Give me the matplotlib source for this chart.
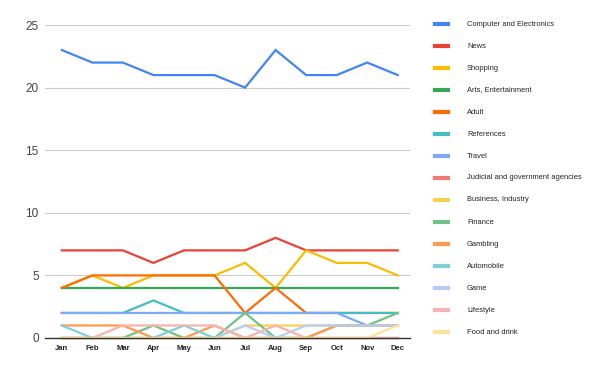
import matplotlib
matplotlib.use("Agg")
import matplotlib.pyplot as plt
from matplotlib.lines import Line2D

plt.rcParams['font.family'] = ['Liberation Sans', 'DejaVu Sans']

months = ["Jan", "Feb", "Mar", "Apr", "May", "Jun", "Jul", "Aug", "Sep", "Oct", "Nov", "Dec"]

computer = [23, 22, 22, 21, 21, 21, 20, 23, 21, 21, 22, 21]
news = [7, 7, 7, 6, 7, 7, 7, 8, 7, 7, 7, 7]
shopping = [4, 5, 4, 5, 5, 5, 6, 4, 7, 6, 6, 5]
arts = [4, 4, 4, 4, 4, 4, 4, 4, 4, 4, 4, 4]
adult = [4, 5, 5, 5, 5, 5, 2, 4, 2, 2, 2, 2]
references = [2, 2, 2, 3, 2, 2, 2, 2, 2, 2, 2, 2]
travel = [2, 2, 2, 2, 2, 2, 2, 2, 2, 2, 1, 1]
judicial = [0, 0, 0, 0, 0, 0, 0, 0, 0, 0, 0, 0]
business = [0, 0, 0, 0, 0, 0, 1, 1, 1, 1, 1, 1]
finance = [0, 0, 0, 1, 0, 0, 2, 0, 0, 1, 1, 2]
gambling = [1, 1, 1, 0, 0, 1, 0, 0, 0, 1, 1, 1]
automobile = [1, 0, 0, 0, 1, 0, 0, 0, 0, 0, 0, 0]
game = [0, 0, 0, 0, 0, 0, 1, 0, 1, 1, 1, 1]
lifestyle = [0, 0, 1, 1, 1, 1, 0, 1, 0, 0, 0, 0]
food = [0, 0, 0, 0, 0, 0, 0, 0, 0, 0, 0, 1]

labels = ["Computer and Electronics", "News", "Shopping", "Arts, Entertainment", "Adult",
          "References", "Travel", "Judicial and government agencies", "Business, Industry",
          "Finance", "Gambling", "Automobile", "Game", "Lifestyle", "Food and drink"]
series = [computer, news, shopping, arts, adult, references, travel, judicial, business,
          finance, gambling, automobile, game, lifestyle, food]
colors = ["#4285f4", "#ea4335", "#fbbc04", "#34a853", "#ff6d01", "#46bdc6", "#7baaf7",
          "#f07b72", "#fcd04f", "#71c287", "#ff994d", "#7ed1d7", "#b3cefb", "#f7b4ae", "#fde49b"]

fig = plt.figure(figsize=(6, 3.71), dpi=100)
ax = fig.add_axes([45/600, 33/371, 365/600, 313/371])

x = list(range(len(months)))
for s, c in zip(series, colors):
    ax.plot(x, s, color=c, lw=1.6, solid_joinstyle='miter', clip_on=False)

ax.set_xlim(-0.55, 11.4)
ax.set_ylim(0, 25)
ax.set_yticks([0, 5, 10, 15, 20, 25])
ax.set_xticks(x)
ax.set_xticklabels(months, fontsize=5.5, fontweight='bold', color='#222222')
ax.tick_params(axis='x', length=0, pad=5)
ax.tick_params(axis='y', length=0, labelsize=8.5, labelcolor='#444444', pad=4.5)
ax.grid(axis='y', color='#cccccc', lw=0.8)
ax.set_axisbelow(True)
for sp in ['top', 'right', 'left']:
    ax.spines[sp].set_visible(False)
ax.spines['bottom'].set_color('#333333')
ax.spines['bottom'].set_linewidth(1.0)

# legend
for i, (lab, c) in enumerate(zip(labels, colors)):
    ypx = 24 + 22 * i
    yf = 1 - ypx / 371
    fig.add_artist(Line2D([435/600, 448/600], [yf, yf], color=c, lw=3.0,
                          transform=fig.transFigure))
    fig.text(467/600, yf, lab, fontsize=5.4, color='#222222', va='center', ha='left')

fig.savefig("out.png", dpi=100)
